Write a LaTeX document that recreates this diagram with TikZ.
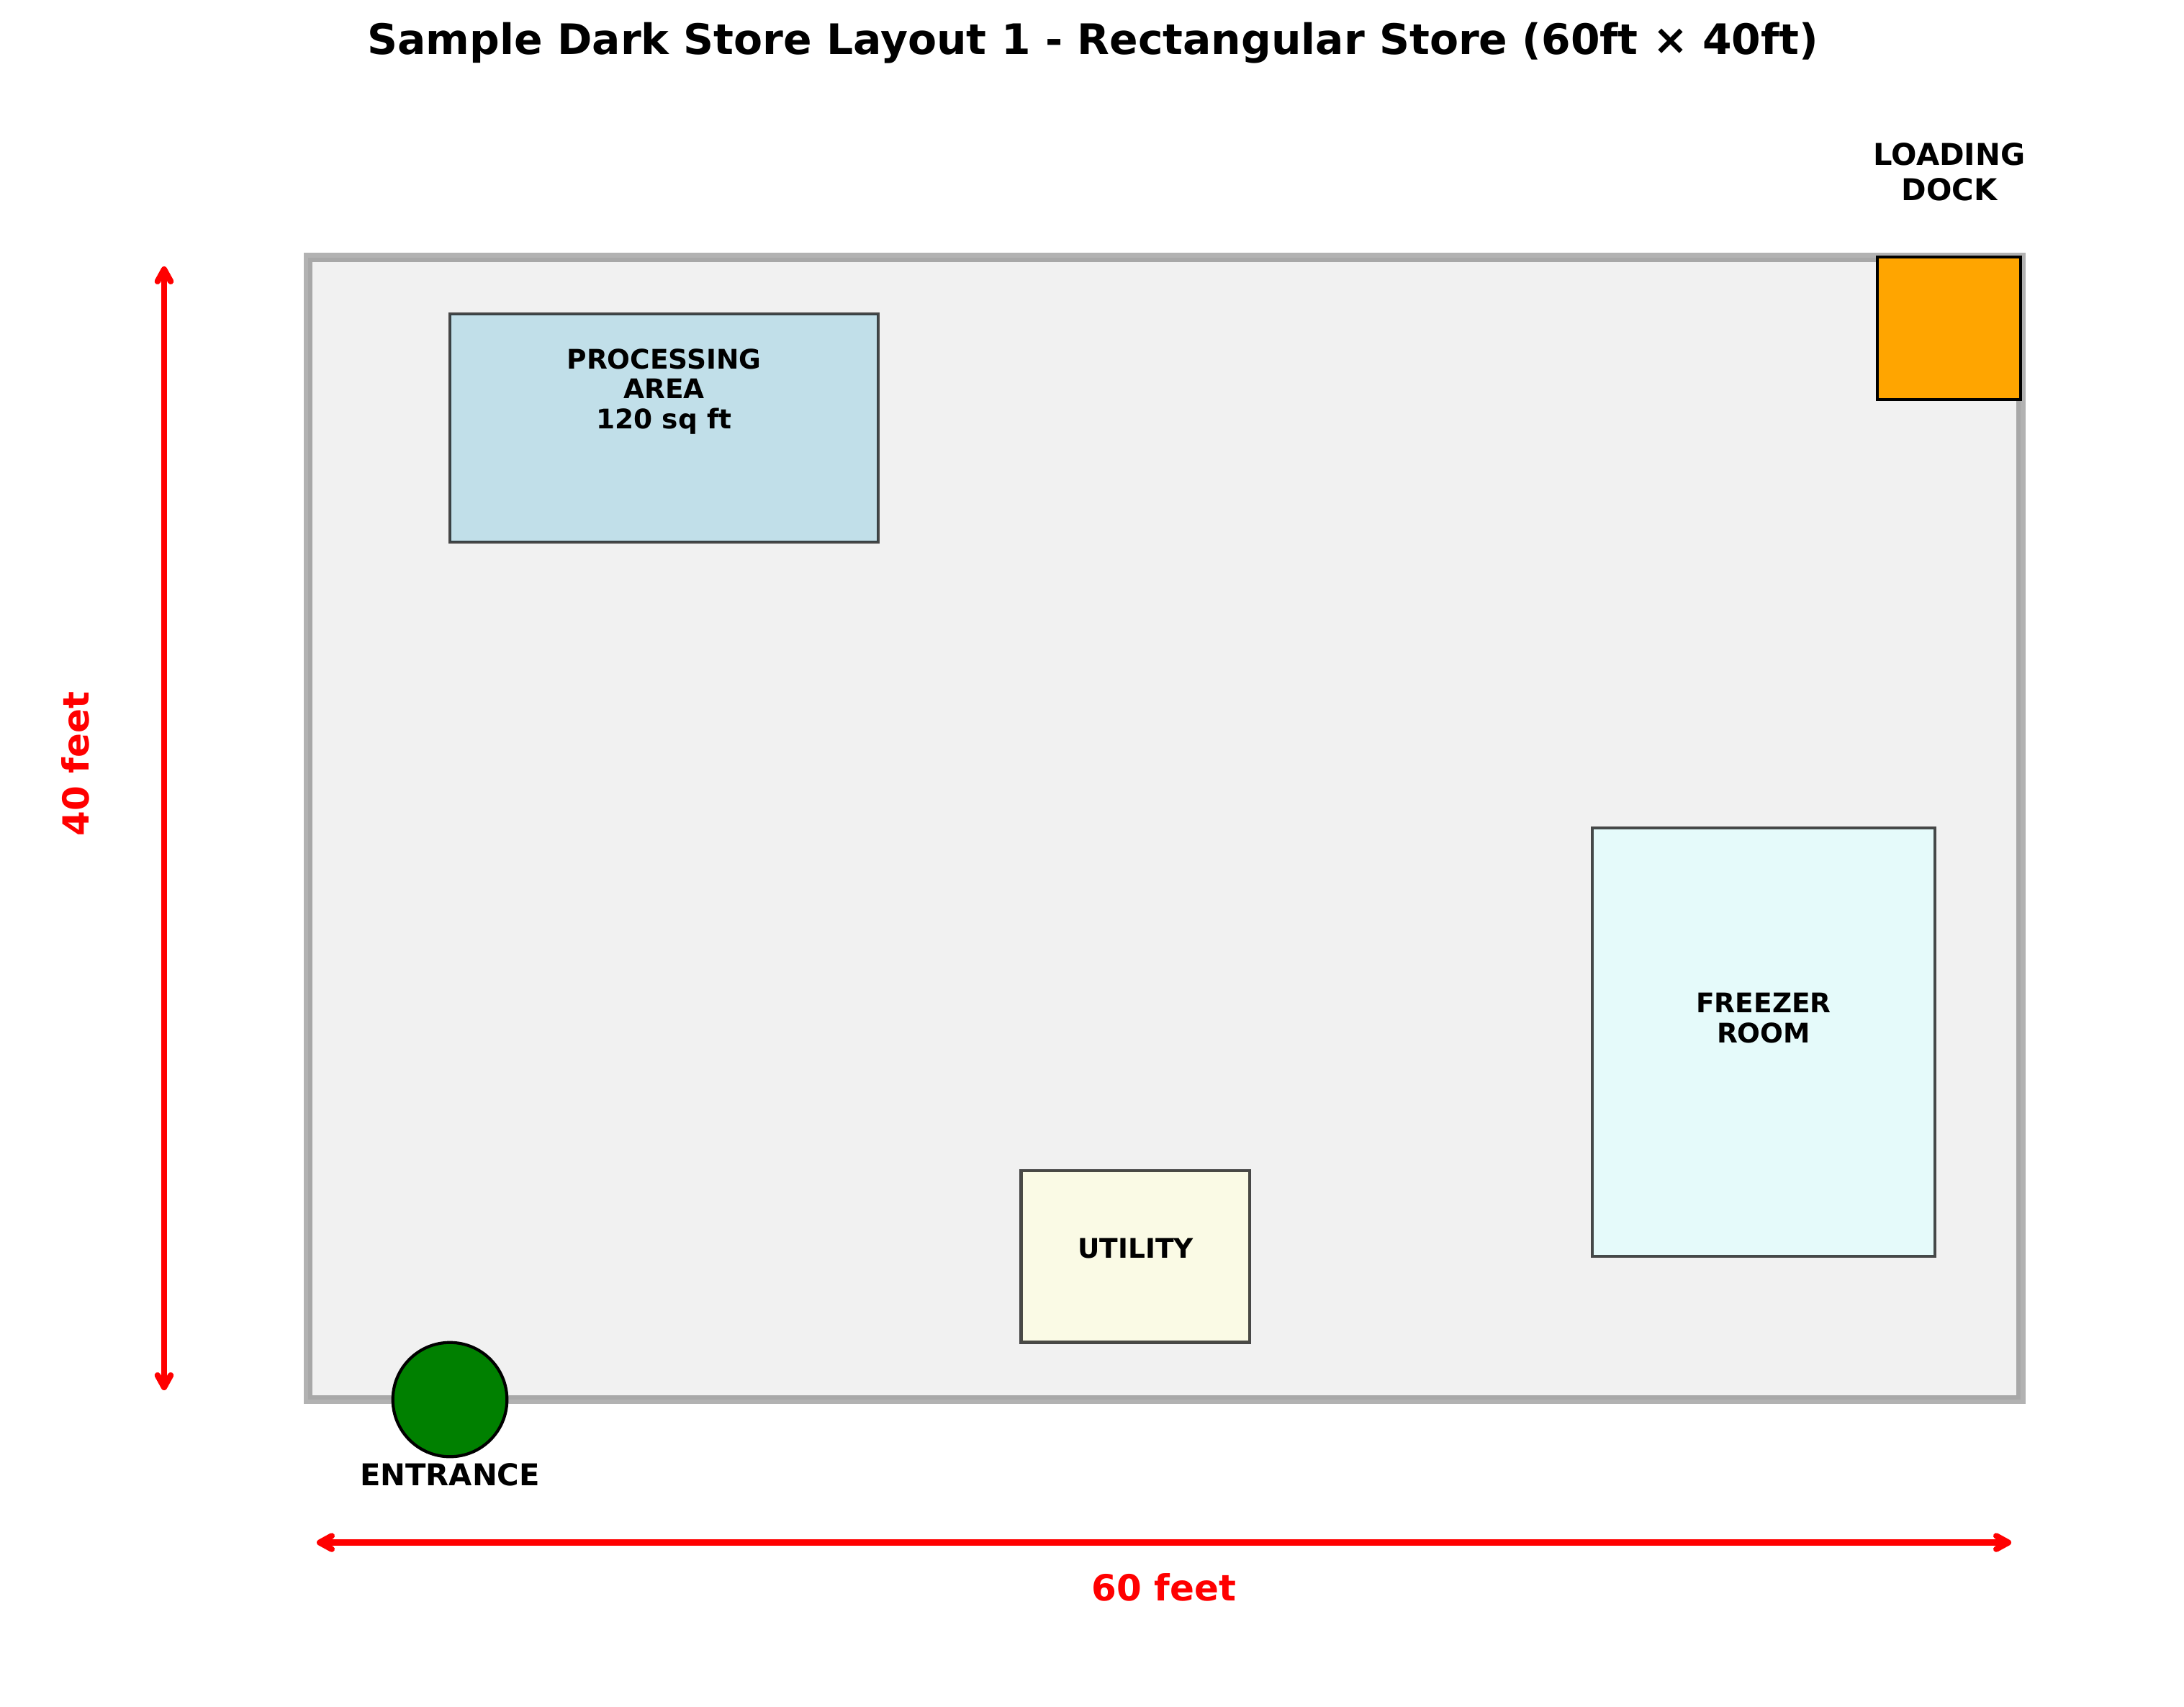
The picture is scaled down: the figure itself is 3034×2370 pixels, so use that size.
\documentclass[tikz,border=0pt]{standalone}
\usepackage{fontspec}
\setmainfont{DejaVu Sans}
\usetikzlibrary{arrows.meta}
\definecolor{frameface}{HTML}{F1F1F1}
\definecolor{lblue}{HTML}{ADD8E6}
\definecolor{lcyan}{HTML}{E0FFFF}
\definecolor{lyellow}{HTML}{FFFFE0}
\definecolor{dockc}{HTML}{FFA500}
\definecolor{entc}{HTML}{008000}
\tikzset{
  x=0.24bp,y=-0.24bp,
  storeframe/.style={draw=black,draw opacity=.3,fill=frameface,line width=3bp,line join=miter},
  room/.style={draw=black,line width=1bp,opacity=.7},
  solidshape/.style={draw=black,line width=1bp},
  dimline/.style={draw=red,line width=2bp,line cap=round,line join=round,{Straight Barb[round,length=4bp,width=4.4bp]}-{Straight Barb[round,length=4bp,width=4.4bp]}},
  lab/.style={inner sep=0pt,outer sep=0pt,anchor=base,align=center,font=\bfseries\fontsize{9bp}{10bp}\selectfont},
  labb/.style={lab,font=\bfseries\fontsize{10bp}{11.76bp}\selectfont},
  dim/.style={lab,text=red,font=\bfseries\fontsize{12bp}{14bp}\selectfont},
}
\begin{document}
\begin{tikzpicture}
\useasboundingbox (0,0) rectangle (3034,2370);
\fill[white] (0,0) rectangle (3034,2370);
\draw[storeframe] (428,357.5) rectangle (2807.3,1944);
\draw[room,fill=lblue] (625,436) rectangle (1220,753);
\draw[room,fill=lcyan] (2212,1150) rectangle (2688,1745);
\draw[room,fill=lyellow] (1418.5,1626) rectangle (1736,1864.5);
\draw[solidshape,fill=dockc] (2608,357) rectangle (2807,555.4);
\draw[solidshape,fill=entc] (625,1944) circle (79.3);
\node[lab] (processing) at (922.5,595.5) {PROCESSING\\AREA\\120 sq ft};
\node[lab] (freezer) at (2450,1448.5) {FREEZER\\ROOM};
\node[lab] (utility) at (1577.8,1747) {UTILITY};
\node[labb] (dock) at (2708,278) {LOADING\\DOCK};
\node[labb] (entrance) at (625,2063.5) {ENTRANCE};
\coordinate (wl) at (440,2142.5);
\coordinate (wr) at (2794,2142.5);
\coordinate (ht) at (228,370);
\coordinate (hb) at (228,1931);
\draw[dimline] (wl) -- (wr);
\draw[dimline] (ht) -- (hb);
\node[dim] (w) at (1617,2223) {60 feet};
\node[dim,rotate=90] (h) at (123,1061) {40 feet};
\node[lab,font=\bfseries\fontsize{14bp}{17bp}\selectfont] (title) at (1518.5,75) {Sample Dark Store Layout 1 - Rectangular Store (60ft × 40ft)};
\end{tikzpicture}
\end{document}
